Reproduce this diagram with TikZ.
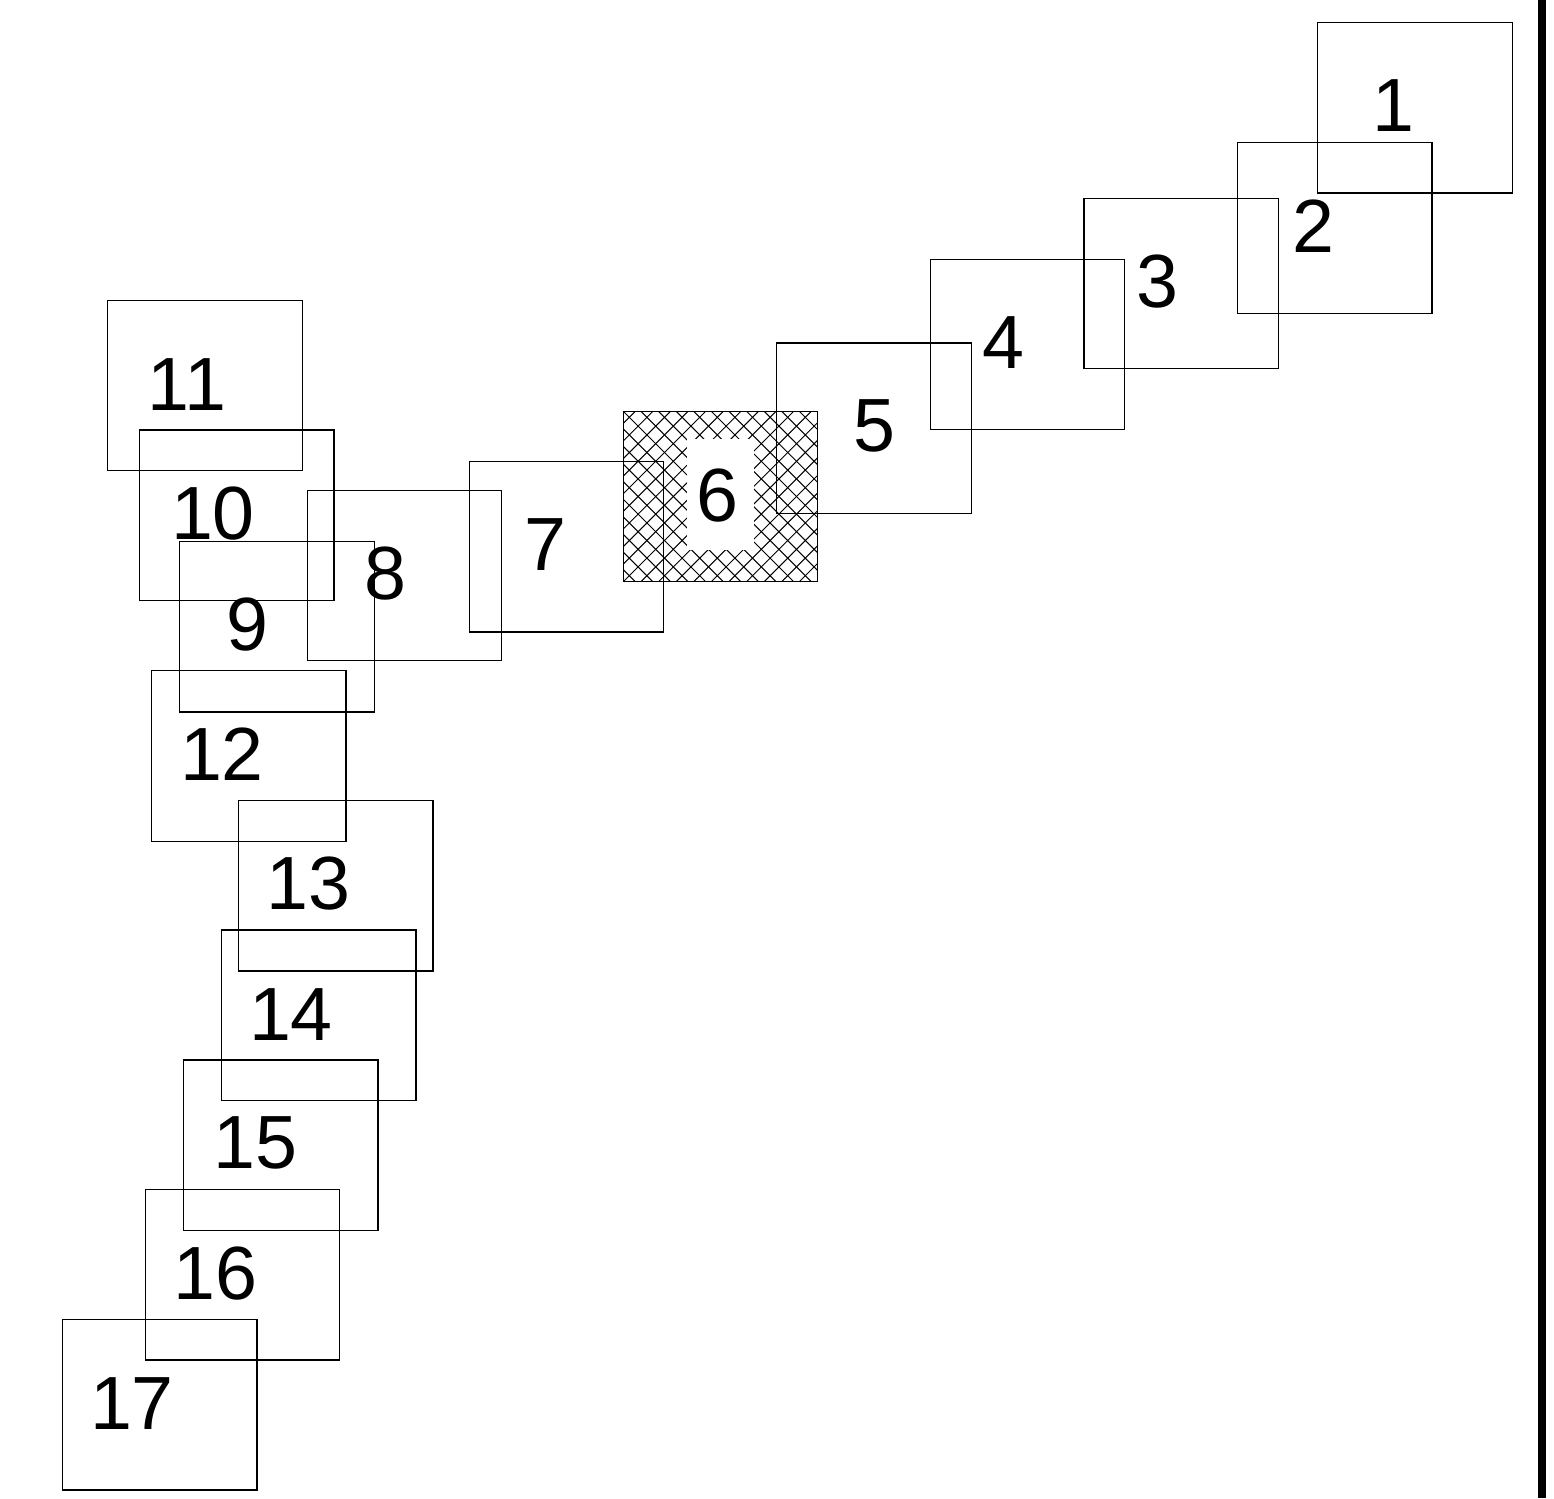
\documentclass[tikz,border=0pt]{standalone}
\usepackage{fontspec}
\setmainfont{Liberation Sans}
\begin{document}
\begin{tikzpicture}[x=1pt,y=-1pt,
  box/.style={draw=black, line width=1.3pt, minimum width=194.5pt, minimum height=170.5pt, inner sep=0pt, outer sep=0pt},
  num/.style={font=\fontsize{75.4}{80}\selectfont, anchor=base, inner sep=0pt, outer sep=0pt},
  hatchline/.style={line width=1pt, black},
  gap/.style={fill=white, draw=none, minimum width=67pt, minimum height=111pt, inner sep=0pt}]
\useasboundingbox (0,0) rectangle (1554,1498);
% right bar
\fill[black] (1538,0) rectangle (1546,1498);
% box 6 (hatched)
\node[box, draw=none] (b6) at (720.5,496.5) {};
\begin{scope}
  \clip (b6.south west) rectangle (b6.north east);
  \foreach \i in {-12,...,14} {
    \draw[hatchline] (623+\i*17.6,411) -- ++(171,171);
    \draw[hatchline] (623+\i*17.6,582) -- ++(171,-171);
  }
\end{scope}
\node[gap] (w6) at (720.5,494.5) {};
\node[box] at (b6) {};
\node[num] (l6) at (717.5,521.5) {6};
% other boxes
\node[box] (b1) at (1415,107.75) {};
\node[box] (b2) at (1334.75,228) {};
\node[box] (b3) at (1181.25,283.5) {};
\node[box] (b4) at (1027.5,344.5) {};
\node[box] (b5) at (874,428.25) {};
\node[box] (b7) at (566.5,546.75) {};
\node[box] (b8) at (404.5,575.5) {};
\node[box] (b9) at (277,626.75) {};
\node[box] (b10) at (236.75,515.25) {};
\node[box] (b11) at (205,385.5) {};
\node[box] (b12) at (248.75,756) {};
\node[box] (b13) at (335.75,885.75) {};
\node[box] (b14) at (318.75,1015.25) {};
\node[box] (b15) at (280.75,1145.25) {};
\node[box] (b16) at (242.5,1274.75) {};
\node[box] (b17) at (159.75,1404.75) {};
% labels
\node[num] (l1) at (1393.5,132) {1};
\node[num] (l2) at (1313.5,252) {2};
\node[num] (l3) at (1157.5,307.5) {3};
\node[num] (l4) at (1003,368) {4};
\node[num] (l5) at (874,451.5) {5};
\node[num] (l7) at (545.5,570) {7};
\node[num] (l8) at (385.5,599.5) {8};
\node[num] (l9) at (247,650.5) {9};
\node[num] (l10) at (213,539.5) {10};
\node[num] (l11) at (186.8,410) {11};
\node[num] (l12) at (222,780) {12};
\node[num] (l13) at (308.5,909.5) {13};
\node[num] (l14) at (291,1040) {14};
\node[num] (l15) at (255.5,1168.5) {15};
\node[num] (l16) at (215.5,1299.5) {16};
\node[num] (l17) at (132,1429) {17};
\end{tikzpicture}
\end{document}
